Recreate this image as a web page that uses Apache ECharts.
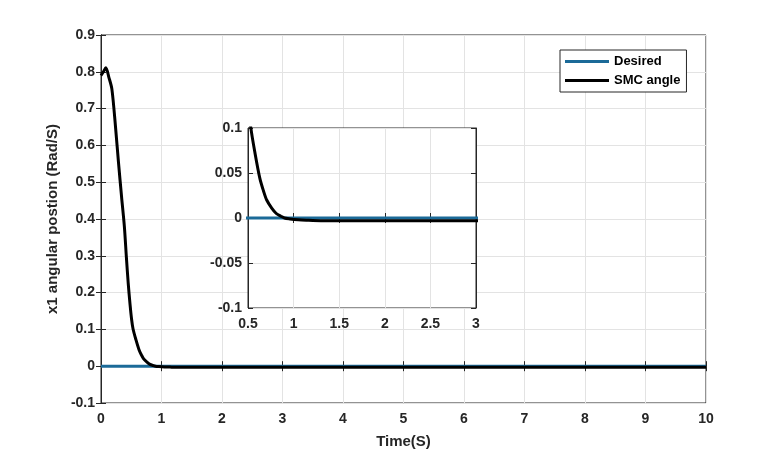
<!DOCTYPE html>
<html>
<head>
<meta charset="utf-8">
<script src="https://cdn.jsdelivr.net/npm/echarts@6/dist/echarts.min.js"></script>
<style>
  html, body { margin: 0; padding: 0; background: #fff; }
  #chart { width: 780px; height: 454px; }
</style>
</head>
<body>
<div id="chart"></div>
<script>
// values
var timeS = [0, 0.04, 0.08, 0.13, 0.18, 0.24, 0.29, 0.34, 0.386, 0.42, 0.45, 0.48, 0.506, 0.53,
  0.577, 0.63, 0.67, 0.705, 0.76, 0.81, 0.86, 0.9, 0.96, 1.05, 1.14, 1.3, 1.5, 2, 3, 4, 5, 6, 7, 8, 9, 10];
var smcAngle = [0.79, 0.80, 0.811, 0.785, 0.753, 0.65, 0.552, 0.46, 0.38, 0.295, 0.225, 0.168, 0.127, 0.101,
  0.072, 0.044, 0.030, 0.020, 0.011, 0.005, 0.002, 0.0, -0.001, -0.002, -0.0025, -0.003, -0.003, -0.003,
  -0.003, -0.003, -0.003, -0.003, -0.003, -0.003, -0.003, -0.003];
var desiredT = [0, 10];
var desiredV = [0, 0];

var mainX = { min: 0, max: 10, step: 1 };
var mainY = { min: -0.1, max: 0.9, step: 0.1 };
var insetX = { min: 0.5, max: 3, step: 0.5 };
var insetY = { min: -0.1, max: 0.1, step: 0.05 };

function pairs(xs, ys) {
  var out = [];
  for (var i = 0; i < xs.length; i++) out.push([xs[i], ys[i]]);
  return out;
}
function fmt(v) {
  return String(+v.toFixed(3));
}

var chart = echarts.init(document.getElementById('chart'));

var font = 'Liberation Sans, Arial, sans-serif';
var labelStyle = { color: '#262626', fontSize: 14, fontWeight: 'bold', fontFamily: font };
var titleStyle = { color: '#262626', fontSize: 15, fontWeight: 'bold', fontFamily: font };
var lineCol = '#262626';
var gridCol = '#e3e3e3';
var blue = '#1b6a98';

function axisBase(r, idx, pos, showLabel, showGrid, margin) {
  return {
    type: 'value', gridIndex: idx, position: pos,
    min: r.min, max: r.max, interval: r.step,
    axisLine: { show: true, lineStyle: { color: lineCol, width: 1 } },
    axisTick: { show: true, inside: true, length: 5, lineStyle: { color: lineCol } },
    axisLabel: Object.assign({ show: showLabel, formatter: fmt, margin: margin || 6 }, labelStyle),
    splitLine: { show: showGrid, lineStyle: { color: gridCol, width: 1 } }
  };
}

var xMain = axisBase(mainX, 0, 'bottom', true, true, 9);
xMain.name = 'Time(S)';
xMain.nameLocation = 'middle';
xMain.nameGap = 31;
xMain.nameTextStyle = titleStyle;

var yMain = axisBase(mainY, 0, 'left', true, true, 6);
yMain.name = 'x1 angular postion (Rad/S)';
yMain.nameLocation = 'middle';
yMain.nameRotate = 90;
yMain.nameGap = 28;
yMain.nameTextStyle = titleStyle;

var option = {
  backgroundColor: '#fff',
  animation: false,
  grid: [
    { left: 101, top: 35, width: 605, height: 369, show: true, borderColor: lineCol, borderWidth: 1, backgroundColor: '#fff' },
    { left: 248, top: 128, width: 228, height: 180, show: true, borderColor: lineCol, borderWidth: 1, backgroundColor: '#fff', z: 5 }
  ],
  legend: {
    left: 560, top: 50,
    orient: 'vertical',
    data: [{ name: 'Desired', icon: 'rect' }, { name: 'SMC angle', icon: 'rect' }],
    backgroundColor: '#fff',
    borderColor: lineCol, borderWidth: 1,
    padding: [5, 6, 5, 5],
    itemGap: 6,
    itemWidth: 44, itemHeight: 3,
    textStyle: { color: '#000', fontSize: 13, fontWeight: 'bold', fontFamily: font, lineHeight: 13 }
  },
  xAxis: [
    xMain,
    axisBase(mainX, 0, 'top', false, false),
    Object.assign(axisBase(insetX, 1, 'bottom', true, true, 9), { z: 6 }),
    Object.assign(axisBase(insetX, 1, 'top', false, false), { z: 6 })
  ],
  yAxis: [
    yMain,
    axisBase(mainY, 0, 'right', false, false),
    Object.assign(axisBase(insetY, 1, 'left', true, true, 6), { z: 6 }),
    Object.assign(axisBase(insetY, 1, 'right', false, false), { z: 6 })
  ],
  series: [
    {
      name: 'Desired', type: 'line', xAxisIndex: 0, yAxisIndex: 0,
      data: pairs(desiredT, desiredV), symbol: 'none',
      lineStyle: { color: blue, width: 3 }, itemStyle: { color: blue }
    },
    {
      name: 'SMC angle', type: 'line', xAxisIndex: 0, yAxisIndex: 0,
      data: pairs(timeS, smcAngle), symbol: 'none', smooth: 0.3,
      lineStyle: { color: '#000', width: 3 }, itemStyle: { color: '#000' }
    },
    {
      name: 'Desired', type: 'line', xAxisIndex: 2, yAxisIndex: 2, z: 7,
      data: pairs(desiredT, desiredV), symbol: 'none', clip: true,
      lineStyle: { color: blue, width: 3 }, itemStyle: { color: blue }
    },
    {
      name: 'SMC angle', type: 'line', xAxisIndex: 2, yAxisIndex: 2, z: 8,
      data: pairs(timeS, smcAngle), symbol: 'none', smooth: 0.3, clip: true,
      lineStyle: { color: '#000', width: 3 }, itemStyle: { color: '#000' }
    }
  ]
};

chart.setOption(option);
</script>
</body>
</html>
